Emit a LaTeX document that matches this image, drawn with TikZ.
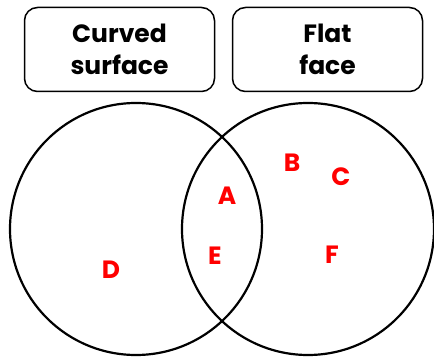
\documentclass[tikz,border=0pt]{standalone}
\usepackage{fontspec}
\setmainfont{Poppins}
\begin{document}
\begin{tikzpicture}[x=1pt, y=-1pt,
    heading/.style={draw, rounded corners=13pt, line width=1.5pt, align=center,
        minimum width=190pt, minimum height=84pt, inner sep=0pt,
        font=\fontsize{25}{32}\selectfont\bfseries},
    set/.style={circle, draw, line width=2.2pt, minimum size=252pt, inner sep=0pt},
    item/.style={text=red, inner sep=0pt, font=\fontsize{25}{30}\selectfont\bfseries}]
    \useasboundingbox (0,0) rectangle (434,358);
    % Headings
    \node[heading] (curvedhead) at (119.5,49.5) {Curved\\surface};
    \node[heading] (flathead) at (327.5,49.5) {Flat\\face};
    % The two sets
    \node[set] (curved) at (136,229) {};
    \node[set] (flat) at (308,229) {};
    % Shapes
    \foreach \name/\x/\y in {A/227/196,B/292/163,C/341/177,D/111/270,E/215/256,F/332/255} {
        \node[item] (\name) at (\x,\y) {\name};
    }
\end{tikzpicture}
\end{document}
